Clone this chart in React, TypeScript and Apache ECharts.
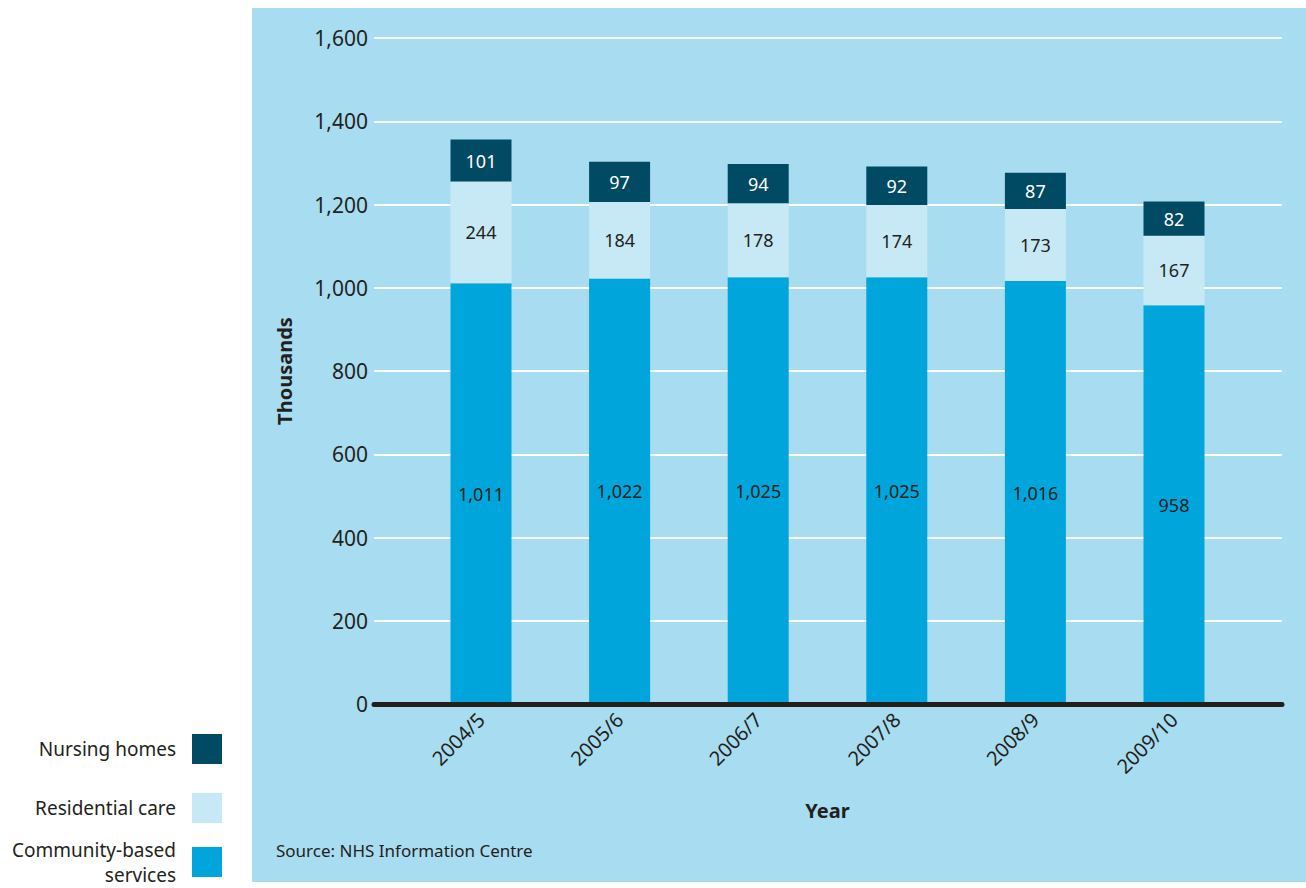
import React, { useEffect, useRef } from "react";
import * as echarts from "echarts";

const categories = ["2004/5", "2005/6", "2006/7", "2007/8", "2008/9", "2009/10"];
const community = [1011, 1022, 1025, 1025, 1016, 958];
const residential = [244, 184, 178, 174, 173, 167];
const nursing = [101, 97, 94, 92, 87, 82];
const yTicks = { min: 0, max: 1600, interval: 200 };

const TEXT = "#231f20";
const FONT = "Noto Sans";

export default function App() {
  const ref = useRef<HTMLDivElement>(null);
  useEffect(() => {
    if (!ref.current) return;
    const chart = echarts.init(ref.current, undefined, { renderer: "svg" });
    const fmt = (v: number) => v.toLocaleString("en-US");
    const legendFmt = (n: string) => (n === "Community-based services" ? "Community-based\nservices" : n);
    const legendCommon = {
      orient: "vertical",
      right: 1306 - 222,
      padding: 0,
      itemWidth: 30,
      itemHeight: 30,
      align: "right",
      icon: "rect",
      selectedMode: false,
      formatter: legendFmt,
      textStyle: { fontFamily: FONT, fontSize: 19, color: TEXT, padding: [0, 11, 0, 0], lineHeight: 25, align: "right" },
    };
    chart.setOption({
      animation: false,
      textStyle: { fontFamily: FONT },
      grid: [
        { left: 374, right: 1306 - 1282, top: 38, bottom: 888 - 704 },
        { left: 411.7, right: 1306 - 1243.3, top: 38, bottom: 888 - 704 },
      ],
      legend: [
        { ...legendCommon, top: 734, data: ["Nursing homes"] },
        { ...legendCommon, top: 793, data: ["Residential care"] },
        { ...legendCommon, top: 837, data: ["Community-based services"] },
      ],
      graphic: [
        {
          type: "text",
          left: 276,
          top: 842,
          style: { text: "Source: NHS Information Centre", fontFamily: FONT, fontSize: 17, fill: TEXT },
        },
      ],
      xAxis: [
        {
          gridIndex: 0,
          type: "value",
          min: 0,
          max: 1,
          z: 5,
          axisLine: { show: true, lineStyle: { color: TEXT, width: 5 } },
          axisTick: { show: false },
          axisLabel: { show: false },
          splitLine: { show: false },
        },
        {
          gridIndex: 1,
          type: "category",
          data: categories,
          axisLine: { show: false },
          axisTick: { show: false },
          axisLabel: { rotate: 45, margin: 12, fontSize: 20, color: TEXT, fontFamily: FONT },
          name: "Year",
          nameLocation: "middle",
          nameGap: 96,
          nameTextStyle: { fontSize: 20, fontWeight: "bold", color: TEXT, fontFamily: FONT },
        },
      ],
      yAxis: [
        {
          gridIndex: 0,
          type: "value",
          ...yTicks,
          axisLine: { show: false },
          axisTick: { show: false },
          axisLabel: { formatter: fmt, fontSize: 21, color: TEXT, margin: 6, fontFamily: FONT },
          splitLine: { show: true, lineStyle: { color: "#ffffff", width: 2 } },
          name: "Thousands",
          nameLocation: "middle",
          nameGap: 80,
          nameTextStyle: { fontSize: 20, fontWeight: "bold", color: TEXT, fontFamily: FONT },
        },
        {
          gridIndex: 1,
          type: "value",
          ...yTicks,
          show: false,
          splitLine: { show: false },
        },
      ],
      series: [
        {
          name: "Community-based services",
          type: "bar",
          stack: "total",
          xAxisIndex: 1,
          yAxisIndex: 1,
          barWidth: 61,
          data: community,
          itemStyle: { color: "#00a5db" },
          label: { show: true, position: "inside", formatter: (p: any) => fmt(p.value), fontSize: 18, color: TEXT, fontFamily: FONT },
        },
        {
          name: "Residential care",
          type: "bar",
          stack: "total",
          xAxisIndex: 1,
          yAxisIndex: 1,
          barWidth: 61,
          data: residential,
          itemStyle: { color: "#c7e9f5" },
          label: { show: true, position: "inside", fontSize: 18, color: TEXT, fontFamily: FONT },
        },
        {
          name: "Nursing homes",
          type: "bar",
          stack: "total",
          xAxisIndex: 1,
          yAxisIndex: 1,
          barWidth: 61,
          data: nursing,
          itemStyle: { color: "#004a63" },
          label: { show: true, position: "inside", fontSize: 18, color: "#ffffff", fontFamily: FONT },
        },
      ],
    });
    return () => chart.dispose();
  }, []);
  return (
    <div style={{ position: "absolute", left: 0, top: 0, width: 1306, height: 888, background: "#ffffff" }}>
      <div style={{ position: "absolute", left: 252, top: 8, width: 1054, height: 874, background: "#a8dcf0" }} />
      <div ref={ref} style={{ position: "absolute", left: 0, top: 0, width: 1306, height: 888 }} />
    </div>
  );
}
